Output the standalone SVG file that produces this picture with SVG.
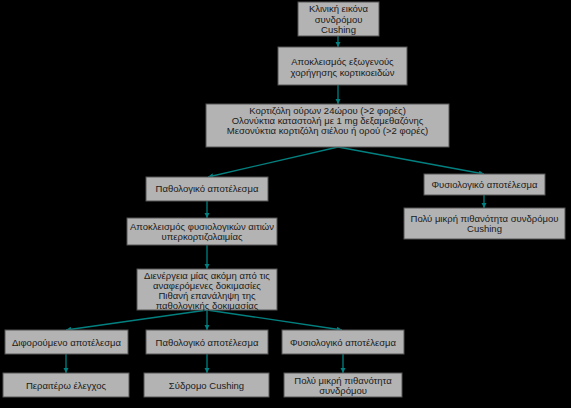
<svg xmlns="http://www.w3.org/2000/svg" width="571" height="408" viewBox="0 0 571 408">
<defs>
<marker id="ah" viewBox="0 0 10 10" refX="10" refY="5" markerWidth="4" markerHeight="4" orient="auto">
<path d="M0,0 L10,5 L0,10 z" fill="#008080"/>
</marker>
<style>
.box{fill:#b3b3b3;stroke:#555;stroke-width:1}
.t{font-family:"Liberation Sans",Arial,sans-serif;font-size:9.5px;fill:#1a1a1a;text-anchor:middle}
.c{stroke:#008080;stroke-width:1.3;fill:none;marker-end:url(#ah)}
</style>
</defs>
<rect width="571" height="408" fill="#000"/>
<g id="connectors">
<line class="c" x1="338" y1="36" x2="338" y2="47"/>
<line class="c" x1="338" y1="85" x2="338" y2="104"/>
<line class="c" x1="338" y1="147" x2="208" y2="177"/>
<line class="c" x1="338" y1="147" x2="484" y2="174"/>
<line class="c" x1="207" y1="201" x2="207" y2="218"/>
<line class="c" x1="484" y1="195" x2="484" y2="208"/>
<line class="c" x1="207" y1="245" x2="207" y2="269"/>
<line class="c" x1="207" y1="310" x2="66" y2="330"/>
<line class="c" x1="207" y1="310" x2="207" y2="330"/>
<line class="c" x1="207" y1="310" x2="342" y2="330"/>
<line class="c" x1="66" y1="354" x2="66" y2="373"/>
<line class="c" x1="207" y1="354" x2="207" y2="373"/>
<line class="c" x1="343" y1="354" x2="343" y2="373"/>
</g>
<g id="n1"><rect class="box" x="298" y="2" width="81" height="34"/>
<text class="t" x="338.5" y="12">Κλινική εικόνα</text><text class="t" x="338.5" y="22.5">συνδρόμου</text><text class="t" x="338.5" y="33">Cushing</text></g>
<g id="n2"><rect class="box" x="278" y="47" width="129" height="38"/>
<text class="t" x="342.5" y="65">Αποκλεισμός εξωγενούς</text><text class="t" x="342.5" y="76">χορήγησης κορτικοειδών</text></g>
<g id="n3"><rect class="box" x="206" y="104" width="243" height="43"/>
<text class="t" x="327.5" y="114">Κορτιζόλη ούρων 24ώρου (&gt;2 φορές)</text><text class="t" x="327.5" y="124">Ολονύκτια καταστολή με 1 mg δεξαμεθαζόνης</text><text class="t" x="327.5" y="134">Μεσονύκτια κορτιζόλη σιέλου ή ορού (&gt;2 φορές)</text></g>
<g id="n4"><rect class="box" x="146" y="177" width="122" height="24"/>
<text class="t" x="207" y="192">Παθολογικό αποτέλεσμα</text></g>
<g id="n5"><rect class="box" x="424" y="174" width="121" height="21"/>
<text class="t" x="484.5" y="188">Φυσιολογικό αποτέλεσμα</text></g>
<g id="n6"><rect class="box" x="404" y="208" width="161" height="31"/>
<text class="t" x="484.5" y="222">Πολύ μικρή πιθανότητα συνδρόμου</text><text class="t" x="484.5" y="232">Cushing</text></g>
<g id="n7"><rect class="box" x="127" y="218" width="150" height="27"/>
<text class="t" x="202" y="230">Αποκλεισμός φυσιολογικών αιτιών</text><text class="t" x="202" y="240">υπερκορτιζολαιμίας</text></g>
<g id="n8"><rect class="box" x="137" y="269" width="140" height="41"/>
<text class="t" x="207" y="279">Διενέργεια μίας ακόμη από τις</text><text class="t" x="207" y="289">αναφερόμενες δοκιμασίες</text><text class="t" x="207" y="299">Πιθανή επανάληψη της</text><text class="t" x="207" y="309">παθολογικής δοκιμασίας</text></g>
<g id="n9"><rect class="box" x="5" y="330" width="123" height="24"/>
<text class="t" x="66.5" y="345.5">Διφορούμενο αποτέλεσμα</text></g>
<g id="n10"><rect class="box" x="146" y="330" width="122" height="24"/>
<text class="t" x="207" y="345.5">Παθολογικό αποτέλεσμα</text></g>
<g id="n11"><rect class="box" x="282" y="330" width="122" height="24"/>
<text class="t" x="343" y="345.5">Φυσιολογικό αποτέλεσμα</text></g>
<g id="n12"><rect class="box" x="3" y="373" width="126" height="24"/>
<text class="t" x="66" y="388.5">Περαιτέρω έλεγχος</text></g>
<g id="n13"><rect class="box" x="144" y="373" width="125" height="24"/>
<text class="t" x="206.5" y="388.5">Σύδρομο Cushing</text></g>
<g id="n14"><rect class="box" x="284" y="373" width="118" height="24"/>
<text class="t" x="343" y="384">Πολύ μικρή πιθανότητα</text><text class="t" x="343" y="393.5">συνδρόμου</text></g>
</svg>
